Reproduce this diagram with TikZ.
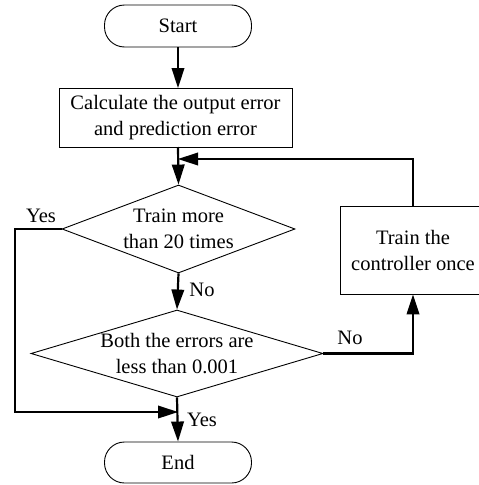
\documentclass[tikz,border=0pt]{standalone}
\usepackage{fontspec}
\setmainfont{Liberation Serif}
\usetikzlibrary{shapes.geometric,arrows.meta}
\begin{document}
\begin{tikzpicture}[x=1pt,y=-1pt,
  every node/.style={font=\fontsize{20.5}{26}\selectfont, text=black},
  term/.style={draw, line width=0.9pt, rectangle, rounded corners=20pt, minimum width=147pt, minimum height=42pt, inner sep=0pt},
  procbox/.style={draw, line width=0.9pt, rectangle, inner sep=0pt, align=center},
  decide/.style={draw, line width=0.9pt, diamond, inner sep=0pt, align=center},
  conn/.style={line width=2.2pt, -{Triangle[length=20pt,width=12.5pt]}},
  lbl/.style={inner sep=0pt}
]
\useasboundingbox (0,0) rectangle (479,485);
\clip (0,0) rectangle (479,485);
\node[term] (start) at (178,26) {Start};
\node[procbox, minimum width=233pt, minimum height=59pt] (calc) at (175.5,117.5) {Calculate the output error\\and prediction error};
\node[decide, shape aspect=2.65, minimum width=233pt, minimum height=88pt] (d1) at (178.5,229) {Train more\\than 20 times};
\node[decide, shape aspect=3.36, minimum width=292pt, minimum height=87pt] (d2) at (177,353.5) {Both the errors are\\less than 0.001};
\node[procbox, minimum width=146pt, minimum height=88pt] (train) at (413,250) {Train the\\controller once};
\node[term, minimum height=41pt] (end) at (178,462.5) {End};

\coordinate (a1) at (178,47);
\coordinate (a2) at (178,88);
\coordinate (b1) at (178,147);
\coordinate (fb) at (178,159);
\coordinate (tr1) at (413,159);
\coordinate (yl1) at (15,229);
\coordinate (yl2) at (15,412);
\coordinate (yl3) at (178,412);
\coordinate (nr1) at (413,353.5);

\draw[conn] (a1) -- (a2);
\draw[conn] (b1) -- (d1.north);
\draw[conn] (train.north) -- (tr1) -- (fb);
\draw[conn] (d1.west) -- (yl1) -- (yl2) -- (yl3);
\draw[conn] (d1.south) -- (d2.north);
\draw[conn] (d2.east) -- (nr1) -- (train.south);
\draw[conn] (d2.south) -- (end.north);

\node[lbl] (lyes1) at (41,216) {Yes};
\node[lbl] (lno1) at (202,290) {No};
\node[lbl] (lno2) at (350,338) {No};
\node[lbl] (lyes2) at (202,420) {Yes};
\end{tikzpicture}
\end{document}
